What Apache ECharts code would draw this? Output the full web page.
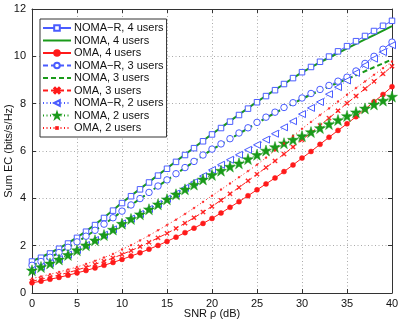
<!DOCTYPE html>
<html><head><meta charset="utf-8">
<script src="https://cdn.jsdelivr.net/npm/echarts@6/dist/echarts.min.js"></script>
<style>html,body{margin:0;padding:0;background:#fff}#c{width:402px;height:323px}</style>
</head><body><div id="c"></div>
<script>
const snr = [0,1,2,3,4,5,6,7,8,9,10,11,12,13,14,15,16,17,18,19,20,21,22,23,24,25,26,27,28,29,30,31,32,33,34,35,36,37,38,39,40];
const xTicks = [0,5,10,15,20,25,30,35,40];
const yTicks = [0,2,4,6,8,10,12];
const seriesNames = ['NOMA\u2212R, 4 users','NOMA, 4 users','OMA, 4 users','NOMA\u2212R, 3 users','NOMA, 3 users','OMA, 3 users','NOMA\u2212R, 2 users','NOMA, 2 users','OMA, 2 users'];
const nomaR4 = [1.33,1.49,1.67,1.87,2.09,2.33,2.59,2.87,3.17,3.48,3.80,4.09,4.38,4.67,4.96,5.25,5.54,5.83,6.12,6.41,6.70,6.97,7.24,7.52,7.79,8.06,8.32,8.57,8.83,9.08,9.33,9.55,9.77,9.99,10.21,10.43,10.64,10.86,11.07,11.29,11.50];
const noma4  = [1.35,1.51,1.69,1.89,2.11,2.35,2.61,2.89,3.19,3.50,3.82,4.11,4.40,4.69,4.98,5.27,5.56,5.85,6.14,6.43,6.72,6.99,7.26,7.54,7.81,8.08,8.33,8.58,8.83,9.08,9.32,9.53,9.74,9.94,10.14,10.34,10.53,10.72,10.90,11.09,11.28];
const oma4   = [0.43,0.50,0.58,0.66,0.75,0.85,0.95,1.06,1.17,1.29,1.42,1.56,1.70,1.85,2.01,2.18,2.36,2.55,2.74,2.94,3.15,3.38,3.62,3.86,4.11,4.36,4.61,4.86,5.13,5.41,5.70,5.98,6.28,6.58,6.87,7.15,7.45,7.77,8.08,8.39,8.72];
const nomaR3 = [1.17,1.33,1.51,1.71,1.93,2.16,2.40,2.65,2.91,3.18,3.46,3.72,3.99,4.25,4.52,4.78,5.04,5.30,5.56,5.83,6.08,6.30,6.52,6.76,6.98,7.21,7.43,7.64,7.84,8.04,8.24,8.43,8.60,8.77,8.95,9.12,9.38,9.70,10.00,10.30,10.60];
const noma3  = [1.16,1.32,1.50,1.70,1.92,2.15,2.39,2.64,2.90,3.17,3.45,3.71,3.98,4.24,4.51,4.77,5.03,5.29,5.55,5.81,6.06,6.28,6.50,6.73,6.95,7.18,7.39,7.60,7.80,8.00,8.20,8.38,8.55,8.72,8.88,9.04,9.20,9.37,9.54,9.70,9.87];
const oma3   = [0.50,0.58,0.67,0.76,0.86,0.97,1.09,1.21,1.34,1.48,1.63,1.79,1.96,2.14,2.33,2.52,2.73,2.95,3.18,3.42,3.66,3.92,4.19,4.46,4.74,5.02,5.30,5.58,5.87,6.17,6.47,6.77,7.08,7.39,7.70,8.02,8.32,8.63,8.94,9.26,9.58];
const nomaR2 = [0.97,1.11,1.26,1.43,1.62,1.82,2.03,2.24,2.46,2.69,2.94,3.14,3.34,3.55,3.76,3.98,4.20,4.44,4.68,4.94,5.20,5.42,5.63,5.84,6.05,6.26,6.48,6.73,7.00,7.26,7.56,7.82,8.07,8.40,8.70,8.98,9.30,9.62,9.90,10.18,10.47];
const noma2  = [0.96,1.10,1.25,1.42,1.61,1.81,2.02,2.23,2.45,2.68,2.93,3.13,3.33,3.54,3.75,3.96,4.17,4.38,4.58,4.80,4.99,5.17,5.34,5.48,5.66,5.84,6.02,6.17,6.33,6.48,6.63,6.80,6.97,7.14,7.31,7.48,7.64,7.80,7.97,8.13,8.30];
const oma2   = [0.61,0.70,0.79,0.89,0.99,1.10,1.23,1.36,1.50,1.65,1.84,2.02,2.22,2.43,2.65,2.87,3.10,3.34,3.59,3.85,4.11,4.37,4.63,4.89,5.15,5.42,5.72,6.02,6.32,6.63,6.94,7.23,7.52,7.80,8.09,8.38,8.66,8.94,9.22,9.50,9.78];

const BLUE = '#4a5cff', GREEN = '#1a9a1a', RED = '#ff1a1a';
const FONT = 'Liberation Sans';
const star = 'path://M50,0 L61.8,35.5 L99,35.5 L69,57.5 L80.5,93 L50,71 L19.5,93 L31,57.5 L1,35.5 L38.2,35.5 Z';
const cross = 'path://M0,1.5 L1.5,0 L5,3.5 L8.5,0 L10,1.5 L6.5,5 L10,8.5 L8.5,10 L5,6.5 L1.5,10 L0,8.5 L3.5,5 Z';
const smallDot = 'path://M0,0 M10,10 M3.5,3.5 L6.5,3.5 L6.5,6.5 L3.5,6.5 Z';
const dash = [5,3], dot = [1,2.5];

function mk(name, data, color, width, type, symbol, size, filled, rotate) {
  return {
    name: name, type: 'line', data: snr.map((x,i)=>[x,data[i]]),
    lineStyle: {color: color, width: width, type: type},
    symbol: symbol, symbolSize: size, symbolRotate: rotate || 0, showSymbol: symbol !== 'none',
    itemStyle: {color: filled ? color : '#fff', borderColor: color, borderWidth: filled ? 0.5 : 1},
    animation: false, silent: true
  };
}
const series = [
  mk(seriesNames[0], nomaR4, BLUE, 1, 'solid', 'rect', 5.5, false),
  mk(seriesNames[1], noma4, GREEN, 2, 'solid', 'none', 0, true),
  mk(seriesNames[2], oma4, RED, 1, 'solid', 'circle', 5, true),
  mk(seriesNames[3], nomaR3, BLUE, 1, dash, 'circle', 6.5, false),
  mk(seriesNames[4], noma3, GREEN, 2, dash, 'none', 0, true),
  mk(seriesNames[5], oma3, RED, 1, dash, cross, 4.5, true),
  mk(seriesNames[6], nomaR2, BLUE, 1, dot, 'triangle', 7, false, 90),
  mk(seriesNames[7], noma2, GREEN, 1, dot, star, 11, true),
  mk(seriesNames[8], oma2, RED, 1, dot, smallDot, 5, true)
];
const legendData = seriesNames.map((n, i) => (i === 1 || i === 4) ? {name: n, itemStyle: {opacity: 0}} : {name: n});
const axisCommon = {
  type: 'value',
  axisLine: {show: true, onZero: false, lineStyle: {color: '#333', width: 1}},
  axisTick: {show: true, inside: true, length: 4, lineStyle: {color: '#333'}},
  axisLabel: {color: '#111', fontFamily: FONT, fontSize: 11},
  splitLine: {show: false}
};
const option = {
  backgroundColor: '#fff',
  animation: false,
  grid: {left: 32, right: 10, top: 9, bottom: 30, containLabel: false, outerBoundsMode: 'none'},
  legend: {
    orient: 'vertical', left: 40, top: 19,
    data: legendData,
    itemWidth: 28, itemHeight: 7, itemGap: 0.5,
    padding: [3, 3, 3, 2],
    backgroundColor: '#fff', borderColor: '#333', borderWidth: 1, borderRadius: 0,
    textStyle: {fontFamily: FONT, fontSize: 11, color: '#111', lineHeight: 12, padding: [0,0,0,-2]},
    selectedMode: false
  },
  xAxis: [
    Object.assign({}, axisCommon, {min: 0, max: 40, interval: 5, position: 'bottom',
      name: 'SNR \u03c1 (dB)', nameLocation: 'middle', nameGap: 15, nameMoveOverlap: false,
      nameTextStyle: {fontFamily: FONT, fontSize: 11, color: '#111', verticalAlign: 'top'},
      axisLabel: {color: '#111', fontFamily: FONT, fontSize: 11, margin: 5},
      splitLine: {show: true, lineStyle: {color: '#aaa', type: dot, width: 1}}}),
    Object.assign({}, axisCommon, {min: 0, max: 40, interval: 5, position: 'top', axisLabel: {show: false}})
  ],
  yAxis: [
    Object.assign({}, axisCommon, {min: 0, max: 12, interval: 2, position: 'left',
      name: 'Sum EC (bits/s/Hz)', nameLocation: 'middle', nameGap: 18, nameMoveOverlap: false,
      nameTextStyle: {fontFamily: FONT, fontSize: 11, color: '#111'},
      axisLabel: {color: '#111', fontFamily: FONT, fontSize: 11, margin: 6},
      splitLine: {show: true, lineStyle: {color: '#aaa', type: dot, width: 1}}}),
    Object.assign({}, axisCommon, {min: 0, max: 12, interval: 2, position: 'right', axisLabel: {show: false}})
  ],
  series: series
};
const chart = echarts.init(document.getElementById('c'), null, {renderer: 'canvas'});
chart.setOption(option);
</script></body></html>
